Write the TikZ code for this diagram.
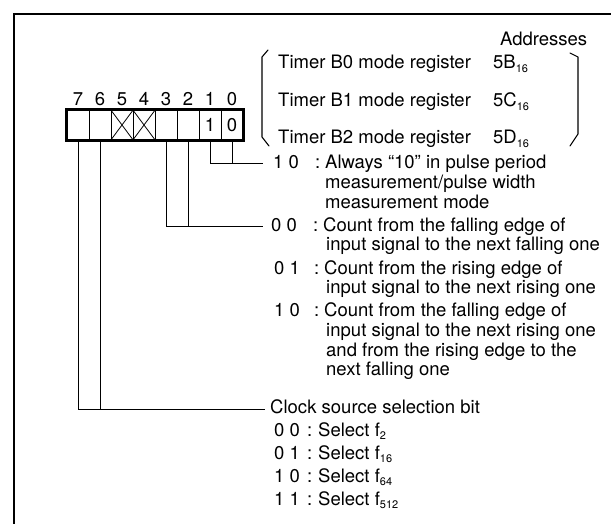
\documentclass[tikz,border=0pt]{standalone}
\usepackage{fontspec}
\setmainfont{TeX Gyre Heros}
\newcommand{\lowidx}[1]{\raisebox{-0.35ex}{\fontsize{11}{11}\selectfont #1}}
\begin{document}
\begin{tikzpicture}[x=1pt,y=-1pt,
  txt/.style={anchor=base west, inner sep=0pt, font=\fontsize{18.5}{20}\selectfont},
  dig/.style={anchor=base, inner sep=0pt, font=\fontsize{18.5}{20}\selectfont},
  framestyle/.style={line width=2.6pt},
  regbox/.style={line width=2.4pt},
  cell/.style={draw, line width=1pt, minimum width=22pt, minimum height=30pt, inner sep=0pt, font=\fontsize{18.5}{20}\selectfont},
  wire/.style={line width=0.9pt},
  brk/.style={line width=1.1pt, line cap=round, line join=round}]
\useasboundingbox (0,0) rectangle (611,524);
% frame
\draw[framestyle] (14,524) -- (14,14) -- (611,14);
% register cells
\node[cell] (c7) at (78,125) {};
\node[cell] (c6) at (100,125) {};
\node[cell] (c5) at (122,125) {};
\node[cell] (c4) at (144,125) {};
\node[cell] (c3) at (166,125) {};
\node[cell] (c2) at (188,125) {};
\node[cell] (c1) at (210,125) {1};
\node[cell] (c0) at (232,125) {0};
\draw[regbox] (c7.north west) rectangle (c0.south east);
\draw[line width=0.8pt] (c5.north west) -- (c5.south east) (c5.south west) -- (c5.north east);
\draw[line width=0.8pt] (c4.north west) -- (c4.south east) (c4.south west) -- (c4.north east);
% bit numbers
\foreach \b/\x in {7/78,6/100,5/122,4/144,3/166,2/188,1/210,0/232}
  \node[dig] (n\b) at (\x,106) {\b};
% register list
\node[txt] (addr) at (500,46) {Addresses};
\node[txt] (tb0) at (278,69) {Timer B0 mode register};
\node[txt] (tb1) at (278,107) {Timer B1 mode register};
\node[txt] (tb2) at (278,144) {Timer B2 mode register};
\node[txt] (a0) at (493,69) {5B\lowidx{16}};
\node[txt] (a1) at (493,107) {5C\lowidx{16}};
\node[txt] (a2) at (493,144) {5D\lowidx{16}};
\draw[brk] (268,50) -- (262,57) -- (262,137) -- (269,146);
\draw[brk] (570,53) -- (578,57) -- (578,134) -- (570,146);
% wires
\coordinate (e10) at (263,163);
\coordinate (e32) at (263,226);
\coordinate (e76) at (265,409);
\draw[wire] (c1.south) -- (c1.south |- e10) -- (e10);
\draw[wire] (c0.south) -- (c0.south |- e10);
\draw[wire] (c3.south) -- (c3.south |- e32) -- (e32);
\draw[wire] (c2.south) -- (c2.south |- e32);
\draw[wire] (c7.south) -- (c7.south |- e76) -- (e76);
\draw[wire] (c6.south) -- (c6.south |- e76);
% bits 1,0
\node[txt] (k10) at (273,169) {1 0};
\node[txt] (s10) at (315,169) {:};
\node[txt] (d10a) at (325,169) {Always “10” in pulse period};
\node[txt] (d10b) at (325,189) {measurement/pulse width};
\node[txt] (d10c) at (325,209) {measurement mode};
% bits 3,2
\node[txt] (k00) at (271,232) {0 0};
\node[txt] (s00) at (313,232) {:};
\node[txt] (d00a) at (323,232) {Count from the falling edge of};
\node[txt] (d00b) at (326,251) {input signal to the next falling one};
\node[txt] (k01) at (274,274) {0 1};
\node[txt] (s01) at (314,274) {:};
\node[txt] (d01a) at (324,274) {Count from the rising edge of};
\node[txt] (d01b) at (326,293) {input signal to the next rising one};
\node[txt] (k11) at (274,316) {1 0};
\node[txt] (s11) at (314,316) {:};
\node[txt] (d11a) at (324,316) {Count from the falling edge of};
\node[txt] (d11b) at (326,336) {input signal to the next rising one};
\node[txt] (d11c) at (326,356) {and from the rising edge to the};
\node[txt] (d11d) at (326,375) {next falling one};
% bits 7,6
\node[txt] (clk) at (270,413) {Clock source selection bit};
\node[txt] (f0k) at (274,436) {0 0};
\node[txt] (f0s) at (307,436) {:};
\node[txt] (f0d) at (318,436) {Select f\lowidx{2}};
\node[txt] (f1k) at (274,459) {0 1};
\node[txt] (f1s) at (307,459) {:};
\node[txt] (f1d) at (318,459) {Select f\lowidx{16}};
\node[txt] (f2k) at (274,482) {1 0};
\node[txt] (f2s) at (307,482) {:};
\node[txt] (f2d) at (318,482) {Select f\lowidx{64}};
\node[txt] (f3k) at (274,505) {1 1};
\node[txt] (f3s) at (307,505) {:};
\node[txt] (f3d) at (318,505) {Select f\lowidx{512}};
\end{tikzpicture}
\end{document}
